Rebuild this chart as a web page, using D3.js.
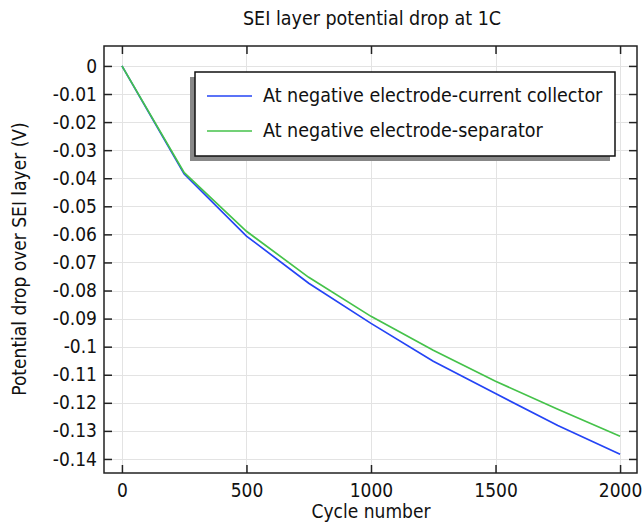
<!DOCTYPE html>
<html>
<head>
<meta charset="utf-8">
<script src="https://cdn.jsdelivr.net/npm/d3@7"></script>
<style>
  body { margin: 0; background: #fff; }
  svg { display: block; font-family: "DejaVu Sans Condensed", "DejaVu Sans", sans-serif; font-stretch: condensed; }
</style>
</head>
<body>
<svg id="chart"></svg>
<script>
// Data
const cycles = [0, 250, 500, 750, 1000, 1250, 1500, 1750, 2000];
const currentCollector = [0, -0.0385, -0.0606, -0.0774, -0.0917, -0.1052, -0.1167, -0.1281, -0.1383];
const separator = [0, -0.0380, -0.0589, -0.0753, -0.0892, -0.1013, -0.1123, -0.1223, -0.1319];
const seriesNames = ["At negative electrode-current collector", "At negative electrode-separator"];
const seriesColors = ["#2444f5", "#45c24a"];
const xTicks = [0, 500, 1000, 1500, 2000];
const yTicks = d3.range(0, 15).map(i => -i / 100);

const width = 642, height = 522;
const plotLeft = 104, plotRight = 637, plotTop = 46, plotBottom = 473;
const font = "DejaVu Sans Condensed, DejaVu Sans, sans-serif";

const svg = d3.select("#chart").attr("width", width).attr("height", height);

const x = d3.scaleLinear().domain([-72, 2068]).range([plotLeft, plotRight]);
const y = d3.scaleLinear().domain([-0.145, 0.0071]).range([plotBottom, plotTop]);

const fmt = d => String(+d.toFixed(2));

// Grid
svg.append("g").attr("stroke", "#e3e3e3").attr("stroke-width", 1)
  .selectAll("line").data(yTicks).join("line")
  .attr("x1", plotLeft).attr("x2", plotRight)
  .attr("y1", d => Math.round(y(d)) + 0.5).attr("y2", d => Math.round(y(d)) + 0.5);
svg.append("g").attr("stroke", "#e3e3e3").attr("stroke-width", 1)
  .selectAll("line").data(xTicks).join("line")
  .attr("y1", plotTop).attr("y2", plotBottom)
  .attr("x1", d => Math.round(x(d)) + 0.5).attr("x2", d => Math.round(x(d)) + 0.5);

// Lines
const line = d3.line().x((d, i) => x(cycles[i])).y(d => y(d));
[currentCollector, separator].forEach((s, k) => {
  svg.append("path").datum(s)
    .attr("fill", "none").attr("stroke", seriesColors[k]).attr("stroke-width", 1.7)
    .attr("d", line);
});

// Axes with inward ticks
const styleTicks = g => g.select(".domain").remove();
svg.append("g").attr("transform", `translate(0,${plotBottom})`)
  .call(d3.axisBottom(x).tickValues(xTicks).tickFormat(d3.format("d")).tickSizeInner(-8).tickSizeOuter(0).tickPadding(11))
  .call(styleTicks)
  .call(g => g.selectAll("line").attr("stroke", "#222").attr("stroke-width", 1.5))
  .call(g => g.selectAll("text").attr("font-size", 19).attr("fill", "#111").attr("font-family", font));
svg.append("g").attr("transform", `translate(0,${plotTop})`)
  .call(d3.axisTop(x).tickValues(xTicks).tickFormat("").tickSizeInner(-8).tickSizeOuter(0))
  .call(styleTicks)
  .call(g => g.selectAll("line").attr("stroke", "#222").attr("stroke-width", 1.5));
svg.append("g").attr("transform", `translate(${plotLeft},0)`)
  .call(d3.axisLeft(y).tickValues(yTicks).tickFormat(fmt).tickSizeInner(-8).tickSizeOuter(0).tickPadding(7))
  .call(styleTicks)
  .call(g => g.selectAll("line").attr("stroke", "#222").attr("stroke-width", 1.5))
  .call(g => g.selectAll("text").attr("font-size", 19).attr("fill", "#111").attr("font-family", font));
svg.append("g").attr("transform", `translate(${plotRight},0)`)
  .call(d3.axisRight(y).tickValues(yTicks).tickFormat("").tickSizeInner(-8).tickSizeOuter(0))
  .call(styleTicks)
  .call(g => g.selectAll("line").attr("stroke", "#222").attr("stroke-width", 1.5));

// Frame
svg.append("rect").attr("x", plotLeft).attr("y", plotTop)
  .attr("width", plotRight - plotLeft).attr("height", plotBottom - plotTop)
  .attr("fill", "none").attr("stroke", "#222").attr("stroke-width", 1.5);

// Titles
svg.append("text").attr("x", 372).attr("y", 25).attr("text-anchor", "middle")
  .attr("font-size", 19.5).attr("fill", "#111").text("SEI layer potential drop at 1C");
svg.append("text").attr("x", 371).attr("y", 518).attr("text-anchor", "middle")
  .attr("font-size", 19).attr("fill", "#111").text("Cycle number");
svg.append("text").attr("transform", "translate(26,259) rotate(-90)").attr("text-anchor", "middle")
  .attr("font-size", 19).attr("fill", "#111").text("Potential drop over SEI layer (V)");

// Legend
const lg = { x: 195, y: 72, w: 420, h: 84 };
svg.append("rect").attr("x", lg.x - 5).attr("y", lg.y + 5).attr("width", lg.w).attr("height", lg.h).attr("fill", "#888");
svg.append("rect").attr("x", lg.x).attr("y", lg.y).attr("width", lg.w).attr("height", lg.h)
  .attr("fill", "#fff").attr("stroke", "#111").attr("stroke-width", 1.5);
seriesNames.forEach((name, k) => {
  const yy = lg.y + 24 + k * 35;
  svg.append("line").attr("x1", lg.x + 12).attr("x2", lg.x + 57).attr("y1", yy).attr("y2", yy)
    .attr("stroke", seriesColors[k]).attr("stroke-width", 1.7);
  svg.append("text").attr("x", lg.x + 68).attr("y", yy + 6)
    .attr("font-size", 19.5).attr("fill", "#111").text(name);
});
</script>
</body>
</html>
